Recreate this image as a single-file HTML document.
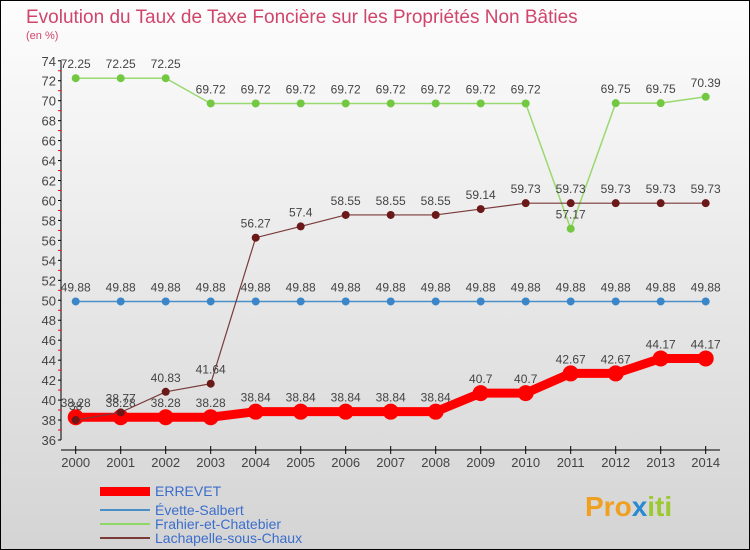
<!DOCTYPE html>
<html><head><meta charset="utf-8"><style>
body{margin:0;width:750px;height:550px;overflow:hidden;font-family:"Liberation Sans",sans-serif}
#wrap{position:absolute;left:0;top:0;width:748px;height:548px;border:1px solid #000;background:linear-gradient(#fdfdfd,#d4d4d4)}
</style></head><body>
<div id="wrap"></div>
<svg id="chart" width="750" height="550" style="position:absolute;left:0;top:0">
<text x="26" y="23" font-size="19" fill="#d0456a">Evolution du Taux de Taxe Foncière sur les Propriétés Non Bâties</text>
<text x="26" y="39" font-size="11" fill="#d0456a">(en %)</text>
<g id="axes"></g><g id="series"></g>
<g>
<rect x="100" y="487" width="50" height="9" fill="#f00"/>
<text x="155" y="496" font-size="14" fill="#3b6ecc">ERREVET</text>
<rect x="100" y="509" width="50" height="2" fill="#4a8fc8"/>
<text x="155" y="515" font-size="14" fill="#3b6ecc">Évette-Salbert</text>
<rect x="100" y="523" width="50" height="2" fill="#8fd868"/>
<text x="155" y="529" font-size="14" fill="#3b6ecc">Frahier-et-Chatebier</text>
<rect x="100" y="537" width="50" height="2" fill="#7a3a3a"/>
<text x="155" y="543" font-size="14" fill="#3b6ecc">Lachapelle-sous-Chaux</text>
</g>
<text x="585" y="516" font-size="28" font-weight="bold" fill="#f0a020">Pro<tspan fill="#2a8ad0">x</tspan><tspan fill="#9cc830">iti</tspan></text>
</svg>
<script>
const years=[2000,2001,2002,2003,2004,2005,2006,2007,2008,2009,2010,2011,2012,2013,2014];
const yTicks=[36,38,40,42,44,46,48,50,52,54,56,58,60,62,64,66,68,70,72,74];
const errevet=[38.28,38.28,38.28,38.28,38.84,38.84,38.84,38.84,38.84,40.7,40.7,42.67,42.67,44.17,44.17];
const evette=[49.88,49.88,49.88,49.88,49.88,49.88,49.88,49.88,49.88,49.88,49.88,49.88,49.88,49.88,49.88];
const frahier=[72.25,72.25,72.25,69.72,69.72,69.72,69.72,69.72,69.72,69.72,69.72,57.17,69.75,69.75,70.39];
const lachapelle=[38,38.77,40.83,41.64,56.27,57.4,58.55,58.55,58.55,59.14,59.73,59.73,59.73,59.73,59.73];
const NS='http://www.w3.org/2000/svg';
const xS=i=>75.7+i*45;
const yS=v=>440-(v-36)*9.98;
function mk(p,tag,at){const e=document.createElementNS(NS,tag);for(const k in at)e.setAttribute(k,at[k]);p.appendChild(e);return e;}
const ax=document.getElementById('axes');
const l1=mk(ax,'line',{x1:61,y1:yS(74),x2:61,y2:yS(36),stroke:'#000'});


const l2=mk(ax,'line',{x1:61,y1:450,x2:720,y2:450,stroke:'#000'});


yTicks.forEach(v=>{
 mk(ax,'line',{x1:58,x2:61,y1:yS(v),y2:yS(v),stroke:'#000'});
 if(v<74) mk(ax,'line',{x1:58,x2:61,y1:yS(v+1),y2:yS(v+1),stroke:'#f00'});
 const t=mk(ax,'text',{x:56,y:yS(v)+5,'font-size':13,fill:'#444','text-anchor':'end'});
 t.textContent=v;
 
 
});
years.forEach((yr,i)=>{
 mk(ax,'line',{x1:xS(i),x2:xS(i),y1:446,y2:454,stroke:'#000'});
 const t=mk(ax,'text',{x:xS(i),y:467,'font-size':13,fill:'#444','text-anchor':'middle'});
 t.textContent=yr;
 
 
});
const sg=document.getElementById('series');
function series(name,vals,color,w,r,dot,fmt){
 const g=mk(sg,'g',{});
 
 
 mk(g,'polyline',{points:vals.map((v,i)=>xS(i)+','+yS(v)).join(' '),fill:'none',stroke:color,'stroke-width':w});
 vals.forEach((v,i)=>{
  const c=mk(g,'circle',{cx:xS(i),cy:yS(v),r:r,fill:dot});
  
  
  const t=mk(g,'text',{x:xS(i),y:yS(v)-10,'font-size':12,fill:'#444','text-anchor':'middle'});
  t.textContent=String(v);
  
  
 });
}
series('evette',evette,'#4a8fc8',1.5,4,'#3a86c8');
series('frahier',frahier,'#9ad870',1.5,4,'#72c840');
series('errevet',errevet,'#f00',9,8,'#f00');
series('lachapelle',lachapelle,'#7a3a3a',1.2,4,'#6a1818');
</script>
</body></html>
